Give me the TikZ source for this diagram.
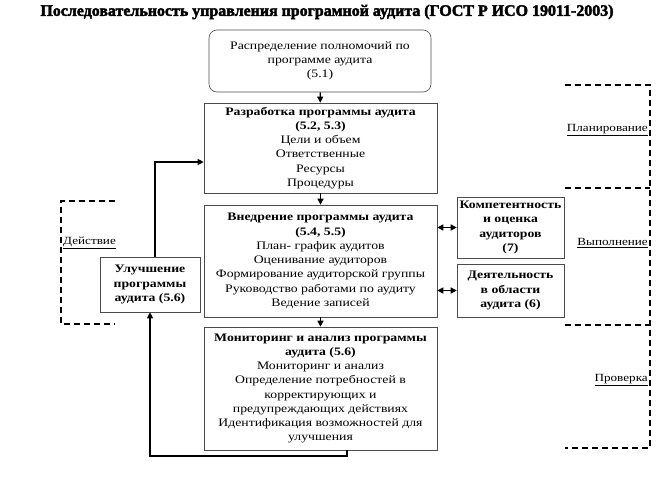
\documentclass[tikz,border=0pt]{standalone}
\usepackage{fontspec}
\setmainfont{Liberation Serif}
\newfontfamily\widefont[FakeStretch=1.2]{Liberation Serif}
\newfontfamily\heavyfont[FakeBold=2.5]{Liberation Serif Bold}
\usetikzlibrary{arrows.meta}
\begin{document}
\begin{tikzpicture}[x=1bp,y=-1bp]
\tikzstyle{box}=[draw=gray!60!black, line width=0.6pt, align=center, inner sep=1pt, font=\fontsize{11.5}{14.3}\selectfont\widefont]
\tikzstyle{arr}=[line width=1.2pt, -{Triangle[length=6bp,width=6bp]}]
\tikzstyle{darr}=[line width=1.2pt, {Triangle[length=6bp,width=6bp]}-{Triangle[length=6bp,width=6bp]}]
\tikzstyle{phase}=[line width=1.5pt, dash pattern=on 6bp off 4bp]
\tikzstyle{lbl}=[inner sep=1pt, font=\fontsize{11}{13}\selectfont\widefont]
\useasboundingbox (0,0) rectangle (663,484);

\node[font=\fontsize{16}{18}\selectfont\heavyfont] (T) at (327,12)
  {Последовательность управления програмной аудита (ГОСТ Р ИСО 19011-2003)};

\node[box, rounded corners=8bp, minimum width=222bp, minimum height=62bp] (dist) at (320,61)
  {Распределение полномочий по\\программе аудита\\(5.1)};
\node[box, minimum width=233bp, minimum height=90bp] (dev) at (320.5,148)
  {\textbf{Разработка программы аудита}\\\textbf{(5.2, 5.3)}\\Цели и объем\\Ответственные\\Ресурсы\\Процедуры};
\node[box, minimum width=233bp, minimum height=112bp] (impl) at (320.5,261)
  {\textbf{Внедрение программы аудита}\\\textbf{(5.4, 5.5)}\\План- график аудитов\\Оценивание аудиторов\\Формирование аудиторской группы\\Руководство работами по аудиту\\Ведение записей};
\node[box, minimum width=233bp, minimum height=123bp] (mon) at (320.5,388.5)
  {\textbf{Мониторинг и анализ программы}\\\textbf{аудита (5.6)}\\Мониторинг и анализ\\Определение потребностей в\\корректирующих и\\предупреждающих действиях\\Идентификация возможностей для\\улучшения};
\node[box, minimum width=107bp, minimum height=61bp] (comp) at (510.5,227.5)
  {\textbf{Компетентность}\\\textbf{и оценка}\\\textbf{аудиторов}\\\textbf{(7)}};
\node[box, minimum width=107bp, minimum height=53bp] (act) at (510.5,290.5)
  {\textbf{Деятельность}\\\textbf{в области}\\\textbf{аудита (6)}};
\node[box, minimum width=100bp, minimum height=55bp] (imp) at (150,284.5)
  {\textbf{Улучшение}\\\textbf{программы}\\\textbf{аудита (5.6)}};

\draw[arr] (dist) -- (dev);
\draw[arr] (dev) -- (impl);
\draw[arr] (impl) -- (mon);
\draw[darr] (impl.east |- comp) -- (comp.west);
\draw[darr] (impl.east |- act) -- (act.west);
\coordinate (m) at (347,456);
\draw[arr] (mon.south -| m) -- (m) -| (imp.south);
\coordinate (u) at (155,162);
\draw[arr] (imp.north -| u) |- (dev.west |- u);

% phases
\draw[phase] (565,85) -- (650,85) -- (650,448) -- (565,448);
\draw[phase] (565,188) -- (650,188);
\draw[phase] (565,325) -- (650,325);
\draw[phase] (115,201) -- (61,201) -- (61,324) -- (115,324);
\node[lbl, anchor=east] (plan) at (649,130) {\underline{Планирование}};
\node[lbl, anchor=east] (exec) at (649,243) {\underline{Выполнение}};
\node[lbl, anchor=east] (check) at (649,380) {\underline{Проверка}};
\node[lbl, anchor=west] (do) at (62,243) {\underline{Действие}};
\end{tikzpicture}
\end{document}
